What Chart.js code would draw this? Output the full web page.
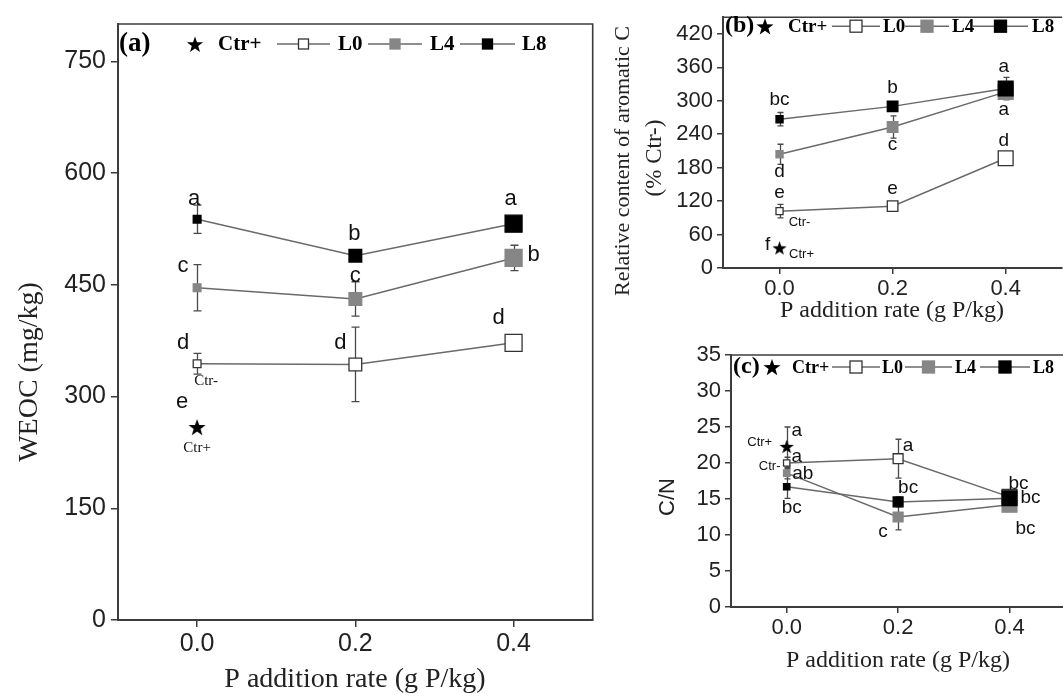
<!DOCTYPE html>
<html><head><meta charset="utf-8">
<script src="https://cdn.jsdelivr.net/npm/chart.js@4"></script>
<style>
html,body{margin:0;padding:0;background:#fff;overflow:hidden;width:1063px;height:700px;}
.pane{position:absolute;}
canvas{display:block;}
</style></head><body>
<div class="pane" style="left:0;top:0;width:606px;height:700px"><canvas id="ca" width="606" height="700"></canvas></div>
<div class="pane" style="left:600px;top:0;width:474px;height:330px"><canvas id="cb" width="474" height="330"></canvas></div>
<div class="pane" style="left:600px;top:330px;width:477px;height:370px"><canvas id="cc" width="477" height="370"></canvas></div>
<script>
// ---------------- DATA ----------------
const pRates = [0.0, 0.2, 0.4];
const xTicks = [0.0, 0.2, 0.4];
const xTickLabels = ['0.0', '0.2', '0.4'];
const xTitle = 'P addition rate (g P/kg)';
const seriesNames = ['L0', 'L4', 'L8'];
const ctrPlusName = 'Ctr+';
const ctrMinusName = 'Ctr-';

// (a) WEOC
const weocTicks = [0, 150, 300, 450, 600, 750];
const weocTickLabels = ['0', '150', '300', '450', '600', '750'];
const weocL0 = [344, 343, 372];
const weocL0Err = [14, 50, 8];
const weocL4 = [446, 431, 486];
const weocL4Err = [31, 23, 17];
const weocL8 = [538, 489, 532];
const weocL8Err = [19, 5, 5];
const weocCtrPlus = 259;
const weocLettersL0 = ['d', 'd', 'd'];
const weocLettersL4 = ['c', 'c', 'b'];
const weocLettersL8 = ['a', 'b', 'a'];
const weocLetterCtrPlus = 'e';

// (b) Relative content of aromatic C
const aroTicks = [0, 60, 120, 180, 240, 300, 360, 420];
const aroTickLabels = ['0', '60', '120', '180', '240', '300', '360', '420'];
const aroL0 = [102, 111, 197];
const aroL0Err = [12, 8, 8];
const aroL4 = [204, 253, 316];
const aroL4Err = [18, 20, 14];
const aroL8 = [267, 290, 322];
const aroL8Err = [12, 8, 20];
const aroCtrPlus = 36;
const aroLettersL0 = ['e', 'e', 'd'];
const aroLettersL4 = ['d', 'c', 'a'];
const aroLettersL8 = ['bc', 'b', 'a'];
const aroLetterCtrPlus = 'f';

// (c) C/N
const cnTicks = [0, 5, 10, 15, 20, 25, 30, 35];
const cnTickLabels = ['0', '5', '10', '15', '20', '25', '30', '35'];
const cnL0 = [20.0, 20.6, 15.3];
const cnL0Err = [0.8, 2.7, 0.5];
const cnL4 = [18.6, 12.5, 14.2];
const cnL4Err = [0.8, 1.8, 0.5];
const cnL8 = [16.7, 14.6, 15.1];
const cnL8Err = [1.6, 0.7, 0.6];
const cnCtrPlus = 22.3;
const cnCtrPlusErr = 2.7;
const cnLettersL0 = ['a', 'a', 'bc'];
const cnLettersL4 = ['ab', 'c', 'bc'];
const cnLettersL8 = ['bc', 'bc', 'bc'];
const cnLetterCtrPlus = 'a';

// ---------------- STYLE / LAYOUT ----------------
const SANS = 'Liberation Sans, Arial, sans-serif';
const SERIF = 'Liberation Serif, Times New Roman, serif';
const AXIS = '#3c3c3c';
const LINE = '#6a6a6a';
const ERR = '#4a4a4a';
const styles = {
  L0: {fill: '#ffffff', stroke: '#333333'},
  L4: {fill: '#868686', stroke: '#868686'},
  L8: {fill: '#000000', stroke: '#000000'}
};

function drawStar(g, cx, cy, R, color) {
  const r = R * 0.4;
  g.beginPath();
  for (let k = 0; k < 10; k++) {
    const ang = -Math.PI / 2 + k * Math.PI / 5;
    const rad = k % 2 === 0 ? R : r;
    const px = cx + rad * Math.cos(ang), py = cy + rad * Math.sin(ang);
    if (k === 0) g.moveTo(px, py); else g.lineTo(px, py);
  }
  g.closePath(); g.fillStyle = color; g.fill();
}
function starCanvas(size) {
  const c = document.createElement('canvas');
  c.width = size; c.height = size;
  drawStar(c.getContext('2d'), size / 2, size / 2 + size * 0.05, size / 2, '#000');
  return c;
}

const panels = [
  {
    canvas: 'ca', tag: '(a)', yMax: 800, yTicks: weocTicks, yLabels: weocTickLabels,
    vals: {L0: weocL0, L4: weocL4, L8: weocL8}, errs: {L0: weocL0Err, L4: weocL4Err, L8: weocL8Err},
    letters: {L0: weocLettersL0, L4: weocLettersL4, L8: weocLettersL8},
    ctr: weocCtrPlus, ctrErr: 0, ctrLetter: weocLetterCtrPlus,
    yTitle: ['WEOC (mg/kg)'], yTitleFonts: ['28px ' + SERIF],
    L: {
      yAxisW: 118, xAxisH: 80, padTop: 24, padRight: 0, frameRight: true,
      tickFont: 25, tickLen: 7, yTickPad: 5, xTickPad: 2,
      markR: [5.5, 9, 12], starSize: 18, cap: 8,
      letterFont: '22px ' + SANS,
      letterOff: {L8: [[-3, -20], [-1, -22], [-3, -25]], L4: [[-14, -22], [0, -23], [20, -3]], L0: [[-14, -21], [-15, -22], [-15, -25]]},
      ctrLetterOff: [-15, -25],
      ctrMinus: {dx: 9, dy: 17, font: '15px ' + SERIF},
      ctrPlus: {dx: 0, dy: 21, font: '15px ' + SERIF},
      xTitle: {x: 355, y: 680, font: '28px ' + SERIF},
      yTitlePos: [[30, 372]],
      legend: {dy: 20, tagFont: 'bold 27px ' + SERIF, font: 'bold 21px ' + SERIF, tagX: 1, starX: 77, starR: 8.5, ctrX: 100,
               items: [[159, 212, 220], [250, 304, 312], [342, 397, 404]], sq: 10}
    }
  },
  {
    canvas: 'cb', tag: '(b)', yMax: 450, yTicks: aroTicks, yLabels: aroTickLabels,
    vals: {L0: aroL0, L4: aroL4, L8: aroL8}, errs: {L0: aroL0Err, L4: aroL4Err, L8: aroL8Err},
    letters: {L0: aroLettersL0, L4: aroLettersL4, L8: aroLettersL8},
    ctr: aroCtrPlus, ctrErr: 0, ctrLetter: aroLetterCtrPlus,
    yTitle: ['Relative content of aromatic C', '(% Ctr-)'], yTitleFonts: ['22px ' + SERIF, '23px ' + SERIF],
    L: {
      yAxisW: 123, xAxisH: 62, padTop: 16, padRight: 0, frameRight: false,
      tickFont: 22, tickLen: 6, yTickPad: 4, xTickPad: 2,
      markR: [5, 7.5, 10.5], starSize: 15, cap: 6,
      letterFont: '19px ' + SANS,
      letterOff: {L8: [[0, -19], [0, -19], [-2, -22]], L4: [[0, 17], [0, 18], [-2, 18]], L0: [[0, -18], [0, -17], [-2, -17]]},
      ctrLetterOff: [-12, -3],
      ctrMinus: {dx: 20, dy: 11, font: '13px ' + SANS},
      ctrPlus: {dx: 22, dy: 6, font: '13px ' + SANS},
      xTitle: {x: 292, y: 311, font: '24px ' + SERIF},
      yTitlePos: [[23, 161], [55, 158]],
      legend: {dy: 9, tagFont: 'bold 24px ' + SERIF, font: 'bold 19px ' + SERIF, tagX: 2, starX: 42, starR: 9, ctrX: 65,
               items: [[109, 157, 160], [182, 226, 229], [250, 305, 309]], sq: 12}
    }
  },
  {
    canvas: 'cc', tag: '(c)', yMax: 35, yTicks: cnTicks, yLabels: cnTickLabels,
    vals: {L0: cnL0, L4: cnL4, L8: cnL8}, errs: {L0: cnL0Err, L4: cnL4Err, L8: cnL8Err},
    letters: {L0: cnLettersL0, L4: cnLettersL4, L8: cnLettersL8},
    ctr: cnCtrPlus, ctrErr: cnCtrPlusErr, ctrLetter: cnLetterCtrPlus,
    yTitle: ['C/N'], yTitleFonts: ['22px ' + SANS],
    L: {
      yAxisW: 131, xAxisH: 93, padTop: 25, padRight: 0, frameRight: false,
      tickFont: 22, tickLen: 6, yTickPad: 4, xTickPad: 2,
      markR: [4.5, 7, 10.5], starSize: 15, cap: 6,
      letterFont: '19px ' + SANS,
      letterOff: {L8: [[5, 21], [10, -14], [9, -15]], L4: [[16, 1], [-15, 15], [21, -7]], L0: [[10, -6], [10, -13], [16, 32]]},
      ctrLetterOff: [10, -16],
      ctrMinus: {dx: -17, dy: 3, font: '13px ' + SANS},
      ctrPlus: {dx: -27, dy: -4, font: '13px ' + SANS},
      xTitle: {x: 298, y: 331, font: '24px ' + SERIF},
      yTitlePos: [[68, 167]],
      legend: {dy: 12, tagFont: 'bold 24px ' + SERIF, font: 'bold 18px ' + SERIF, tagX: 2, starX: 41, starR: 9, ctrX: 61,
               items: [[101, 149, 151], [174, 221, 224], [249, 299, 302]], sq: 12}
    }
  }
];

function makeDecor(P) {
  const L = P.L;
  return {
    id: 'decor_' + P.canvas,
    beforeDatasetsDraw(chart) {
      const g = chart.ctx, xs = chart.scales.x, ys = chart.scales.y;
      g.save();
      g.strokeStyle = ERR; g.lineWidth = 1.3;
      const bar = (xv, v, e) => {
        if (!e) return;
        const x = Math.round(xs.getPixelForValue(xv)) + 0.5;
        const t = ys.getPixelForValue(v + e), b = ys.getPixelForValue(v - e);
        g.beginPath();
        g.moveTo(x, t); g.lineTo(x, b);
        g.moveTo(x - L.cap / 2, t); g.lineTo(x + L.cap / 2, t);
        g.moveTo(x - L.cap / 2, b); g.lineTo(x + L.cap / 2, b);
        g.stroke();
      };
      seriesNames.forEach(s => P.vals[s].forEach((v, i) => bar(pRates[i], v, P.errs[s][i])));
      bar(pRates[0], P.ctr, P.ctrErr);
      g.restore();
    },
    afterDraw(chart) {
      const g = chart.ctx, xs = chart.scales.x, ys = chart.scales.y, ca = chart.chartArea;
      g.save();
      // frame (top, and right when visible)
      g.strokeStyle = AXIS; g.lineWidth = 1.6;
      g.beginPath();
      g.moveTo(ca.left, ca.top); g.lineTo(ca.right, ca.top);
      if (L.frameRight) { g.lineTo(ca.right, ca.bottom); }
      g.stroke();
      // letters
      g.fillStyle = '#111'; g.textAlign = 'center'; g.textBaseline = 'middle';
      g.font = L.letterFont;
      seriesNames.forEach(s => P.letters[s].forEach((t, i) => {
        const o = L.letterOff[s][i];
        g.fillText(t, xs.getPixelForValue(pRates[i]) + o[0], ys.getPixelForValue(P.vals[s][i]) + o[1]);
      }));
      const x0 = xs.getPixelForValue(pRates[0]);
      g.fillText(P.ctrLetter, x0 + L.ctrLetterOff[0], ys.getPixelForValue(P.ctr) + L.ctrLetterOff[1]);
      g.font = L.ctrMinus.font;
      g.fillText(ctrMinusName, x0 + L.ctrMinus.dx, ys.getPixelForValue(P.vals.L0[0]) + L.ctrMinus.dy);
      g.font = L.ctrPlus.font;
      g.fillText(ctrPlusName, x0 + L.ctrPlus.dx, ys.getPixelForValue(P.ctr) + L.ctrPlus.dy);
      // legend
      const lg = L.legend, ly = ca.top + lg.dy, lx = ca.left;
      g.textAlign = 'left';
      g.font = lg.tagFont; g.fillStyle = '#000';
      g.fillText(P.tag, lx + lg.tagX, ly);
      drawStar(g, lx + lg.starX, ly + 1, lg.starR, '#000');
      g.font = lg.font;
      g.fillText(ctrPlusName, lx + lg.ctrX, ly + 1);
      lg.items.forEach((it, k) => {
        const s = seriesNames[k], st = styles[s];
        g.strokeStyle = LINE; g.lineWidth = 1.5;
        g.beginPath(); g.moveTo(lx + it[0], ly); g.lineTo(lx + it[1], ly); g.stroke();
        const cx = lx + (it[0] + it[1]) / 2;
        g.fillStyle = st.fill; g.fillRect(cx - lg.sq / 2, ly - lg.sq / 2, lg.sq, lg.sq);
        g.strokeStyle = st.stroke; g.lineWidth = 1.3;
        g.strokeRect(cx - lg.sq / 2, ly - lg.sq / 2, lg.sq, lg.sq);
        g.fillStyle = '#000';
        g.fillText(s, lx + it[2], ly + 1);
      });
      // axis titles
      g.fillStyle = '#222'; g.textAlign = 'center'; g.textBaseline = 'middle';
      g.font = L.xTitle.font;
      g.fillText(xTitle, L.xTitle.x, L.xTitle.y);
      P.yTitle.forEach((t, k) => {
        const p = L.yTitlePos[k];
        g.font = P.yTitleFonts[k];
        g.save(); g.translate(p[0], p[1]); g.rotate(-Math.PI / 2);
        g.fillText(t, 0, 0); g.restore();
      });
      g.restore();
    }
  };
}

function build(P) {
  const L = P.L;
  const ds = [];
  ds.push({
    label: ctrPlusName, data: [{x: pRates[0], y: P.ctr}], showLine: false,
    pointStyle: starCanvas(L.starSize), pointRadius: L.starSize / 2
  });
  ['L8', 'L4', 'L0'].forEach(s => {
    ds.push({
      label: s, data: pRates.map((x, i) => ({x, y: P.vals[s][i]})), showLine: true,
      borderColor: LINE, borderWidth: 1.5, tension: 0, fill: false,
      pointStyle: 'rect', pointRadius: L.markR, pointHoverRadius: L.markR,
      pointBackgroundColor: styles[s].fill, pointBorderColor: styles[s].stroke, pointBorderWidth: 1.3
    });
  });
  const tickCommon = {font: {family: SANS, size: L.tickFont}, color: '#222'};
  new Chart(document.getElementById(P.canvas), {
    type: 'scatter',
    data: {datasets: ds},
    options: {
      responsive: false, animation: false, devicePixelRatio: 1, events: [],
      layout: {padding: {top: L.padTop, right: L.padRight, left: 0, bottom: 0}},
      plugins: {legend: {display: false}, tooltip: {enabled: false}},
      scales: {
        x: {
          type: 'linear', min: -0.1, max: 0.5,
          afterBuildTicks: s => { s.ticks = xTicks.map(v => ({value: v})); },
          afterFit: s => { s.height = L.xAxisH; },
          ticks: Object.assign({padding: L.xTickPad, maxRotation: 0, autoSkip: false,
            callback: v => xTickLabels[xTicks.indexOf(v)]}, tickCommon),
          grid: {drawOnChartArea: false, tickLength: L.tickLen, color: AXIS, lineWidth: 1.5},
          border: {color: AXIS, width: 2}
        },
        y: {
          type: 'linear', min: 0, max: P.yMax,
          afterBuildTicks: s => { s.ticks = P.yTicks.map(v => ({value: v})); },
          afterFit: s => { s.width = L.yAxisW; },
          ticks: Object.assign({padding: L.yTickPad, autoSkip: false,
            callback: v => P.yLabels[P.yTicks.indexOf(v)]}, tickCommon),
          grid: {drawOnChartArea: false, tickLength: L.tickLen, color: AXIS, lineWidth: 1.5},
          border: {color: AXIS, width: 2}
        }
      }
    },
    plugins: [makeDecor(P)]
  });
}
panels.forEach(build);
</script>
</body></html>
